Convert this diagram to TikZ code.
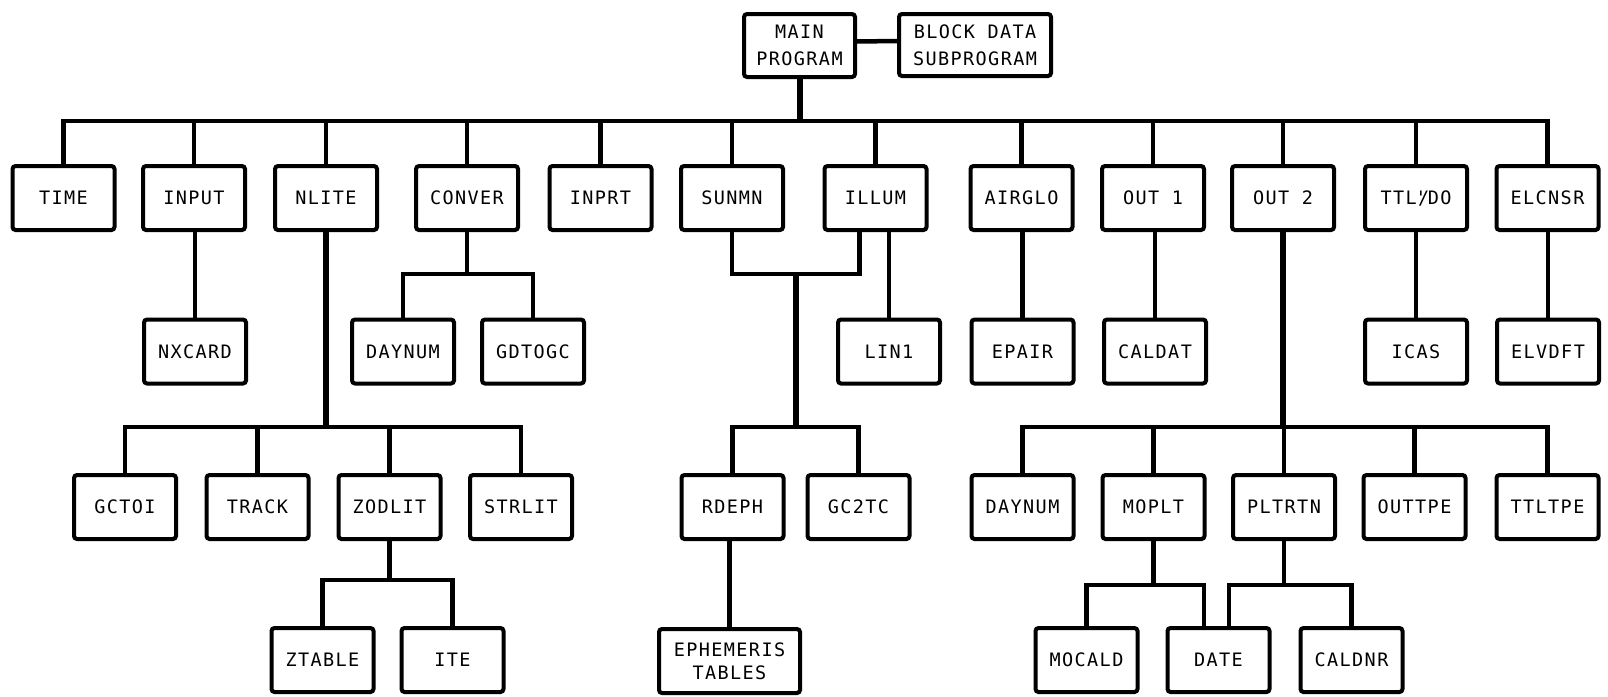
\documentclass[tikz,border=0pt]{standalone}
\usepackage{fontspec}
\newfontfamily\lettering{DejaVu Sans Mono}[LetterSpace=7.5]
\usetikzlibrary{calc}
\begin{document}
\begin{tikzpicture}[x=1pt,y=-1pt,
  box/.style={draw,line width=4pt,rounded corners=3pt,minimum width=102pt,
    minimum height=64pt,inner sep=0pt,align=center,
    font=\lettering\fontsize{18.5}{22}\selectfont},
  wire/.style={line width=4.5pt},
  trunk/.style={line width=6pt}]
\fill[white] (0,0) rectangle (1608,696);
\useasboundingbox (0,0) rectangle (1608,696);

% levels of the horizontal runs
\coordinate (lvA) at (0,121);
\coordinate (lvB) at (0,274);
\coordinate (lvC) at (0,427);
\coordinate (lvD) at (0,580);
\coordinate (lvE) at (0,585);

% top
\node[box,minimum width=111pt,minimum height=63pt,
  font=\lettering\fontsize{18.5}{27}\selectfont] (MAIN) at (799.5,45.5) {MAIN\\PROGRAM};
\node[box,minimum width=152pt,minimum height=62pt,
  font=\lettering\fontsize{18.5}{27}\selectfont] (BLOCK) at (975,45) {BLOCK DATA\\SUBPROGRAM};

% first level
\node[box] (TIME)   at (63.5,198)  {TIME};
\node[box] (INPUT)  at (194,198)   {INPUT};
\node[box] (NLITE)  at (326,198)   {NLITE};
\node[box] (CONVER) at (467,198)   {CONVER};
\node[box] (INPRT)  at (600.5,198) {INPRT};
\node[box] (SUNMN)  at (732,198)   {SUNMN};
\node[box] (ILLUM)  at (875.5,198) {ILLUM};
\node[box] (AIRGLO) at (1021.5,198) {AIRGLO};
\node[box] (OUTA)   at (1153,198)  {OUT 1};
\node[box] (OUTB)   at (1283,198)  {OUT 2};
\node[box] (TTLIDO) at (1416,198)  {TTL\makebox[0.6em]{'\kern-0.45em/}DO};
\node[box] (ELCNSR) at (1547.5,198) {ELCNSR};

% second level
\node[box] (NXCARD) at (195,351.5)   {NXCARD};
\node[box] (DAYNUMA) at (403,351.5)  {DAYNUM};
\node[box] (GDTOGC) at (533,351.5)   {GDTOGC};
\node[box] (LINA)   at (889,351.5)   {LIN1};
\node[box] (EPAIR)  at (1022.5,351.5) {EPAIR};
\node[box] (CALDAT) at (1155,351.5)  {CALDAT};
\node[box] (ICAS)   at (1416,351.5)  {ICAS};
\node[box] (ELVDFT) at (1548,351.5)  {ELVDFT};

% third level
\node[box] (GCTOI)  at (125,507)    {GCTOI};
\node[box] (TRACK)  at (257.5,507)  {TRACK};
\node[box] (ZODLIT) at (389.5,507)  {ZODLIT};
\node[box] (STRLIT) at (521,507)    {STRLIT};
\node[box] (RDEPH)  at (732.5,507)  {RDEPH};
\node[box] (GCTTC)  at (858.5,507)  {GC2TC};
\node[box] (DAYNUMB) at (1022.5,507) {DAYNUM};
\node[box] (MOPLT)  at (1153.5,507) {MOPLT};
\node[box] (PLTRTN) at (1284,507)   {PLTRTN};
\node[box] (OUTTPE) at (1414.5,507) {OUTTPE};
\node[box] (TTLTPE) at (1547.5,507) {TTLTPE};

% fourth level
\node[box] (ZTABLE) at (322.5,660)  {ZTABLE};
\node[box] (ITE)    at (452.5,660)  {ITE};
\node[box,minimum width=141pt,
  font=\lettering\fontsize{18.5}{23}\selectfont] (EPHEM) at (729.5,661) {EPHEMERIS\\TABLES};
\node[box] (MOCALD) at (1086.5,660) {MOCALD};
\node[box] (DATE)   at (1218.5,660) {DATE};
\node[box] (CALDNR) at (1351.5,660) {CALDNR};

% main program and its block data
\draw[wire] ($(MAIN.east)+(0,-4)$) -- ($(BLOCK.west)+(0,-4)$);
\draw[trunk] (MAIN.south) -- (MAIN.south |- lvA);
\draw[wire] (TIME.north) -- (TIME.north |- lvA) -- (ELCNSR.north |- lvA) -- (ELCNSR.north);
\foreach \n in {INPUT,NLITE,CONVER,INPRT,SUNMN,ILLUM,AIRGLO,OUTA,OUTB,TTLIDO}
  \draw[wire] (\n.north) -- (\n.north |- lvA);

% single calls
\draw[wire] (NXCARD.north) -- (NXCARD.north |- INPUT.south);
\draw[wire] (LINA.north) -- (LINA.north |- ILLUM.south);
\draw[wire] (EPAIR.north) -- (EPAIR.north |- AIRGLO.south);
\draw[wire] (CALDAT.north) -- (CALDAT.north |- OUTA.south);
\draw[wire] (ICAS.north) -- (ICAS.north |- TTLIDO.south);
\draw[wire] (ELVDFT.north) -- (ELVDFT.north |- ELCNSR.south);
\draw[wire] (EPHEM.north) -- (EPHEM.north |- RDEPH.south);

% CONVER
\draw[wire] (CONVER.south) -- (CONVER.south |- lvB);
\draw[wire] (DAYNUMA.north) -- (DAYNUMA.north |- lvB) -- (GDTOGC.north |- lvB) -- (GDTOGC.north);

% SUNMN and ILLUM share RDEPH and GC2TC
\coordinate (ilA) at ($(ILLUM.south)+(-16,0)$);
\draw[wire] (SUNMN.south) -- (SUNMN.south |- lvB) -- (ilA |- lvB) -- (ilA);
\coordinate (shared) at ($(SUNMN.south |- lvB)!0.5!(ilA |- lvB)$);
\draw[trunk] (shared) -- (shared |- lvC);
\draw[wire] (RDEPH.north) -- (RDEPH.north |- lvC) -- (GCTTC.north |- lvC) -- (GCTTC.north);

% NLITE
\draw[trunk] (NLITE.south) -- (NLITE.south |- lvC);
\draw[wire] (GCTOI.north) -- (GCTOI.north |- lvC) -- (STRLIT.north |- lvC) -- (STRLIT.north);
\draw[wire] (TRACK.north) -- (TRACK.north |- lvC);
\draw[wire] (ZODLIT.north) -- (ZODLIT.north |- lvC);

% ZODLIT
\draw[wire] (ZODLIT.south) -- (ZODLIT.south |- lvD);
\draw[wire] (ZTABLE.north) -- (ZTABLE.north |- lvD) -- (ITE.north |- lvD) -- (ITE.north);

% OUT 2
\draw[trunk] (OUTB.south) -- (OUTB.south |- lvC);
\draw[wire] (DAYNUMB.north) -- (DAYNUMB.north |- lvC) -- (TTLTPE.north |- lvC) -- (TTLTPE.north);
\foreach \n in {MOPLT,PLTRTN,OUTTPE}
  \draw[wire] (\n.north) -- (\n.north |- lvC);

% MOPLT and PLTRTN both call DATE
\coordinate (dtL) at ($(DATE.north)+(-14.5,0)$);
\coordinate (dtR) at ($(DATE.north)+(10.5,0)$);
\draw[wire] (MOPLT.south) -- (MOPLT.south |- lvE);
\draw[wire] (MOCALD.north) -- (MOCALD.north |- lvE) -- (dtL |- lvE) -- (dtL);
\draw[wire] (PLTRTN.south) -- (PLTRTN.south |- lvE);
\draw[wire] (dtR) -- (dtR |- lvE) -- (CALDNR.north |- lvE) -- (CALDNR.north);
\end{tikzpicture}
\end{document}
